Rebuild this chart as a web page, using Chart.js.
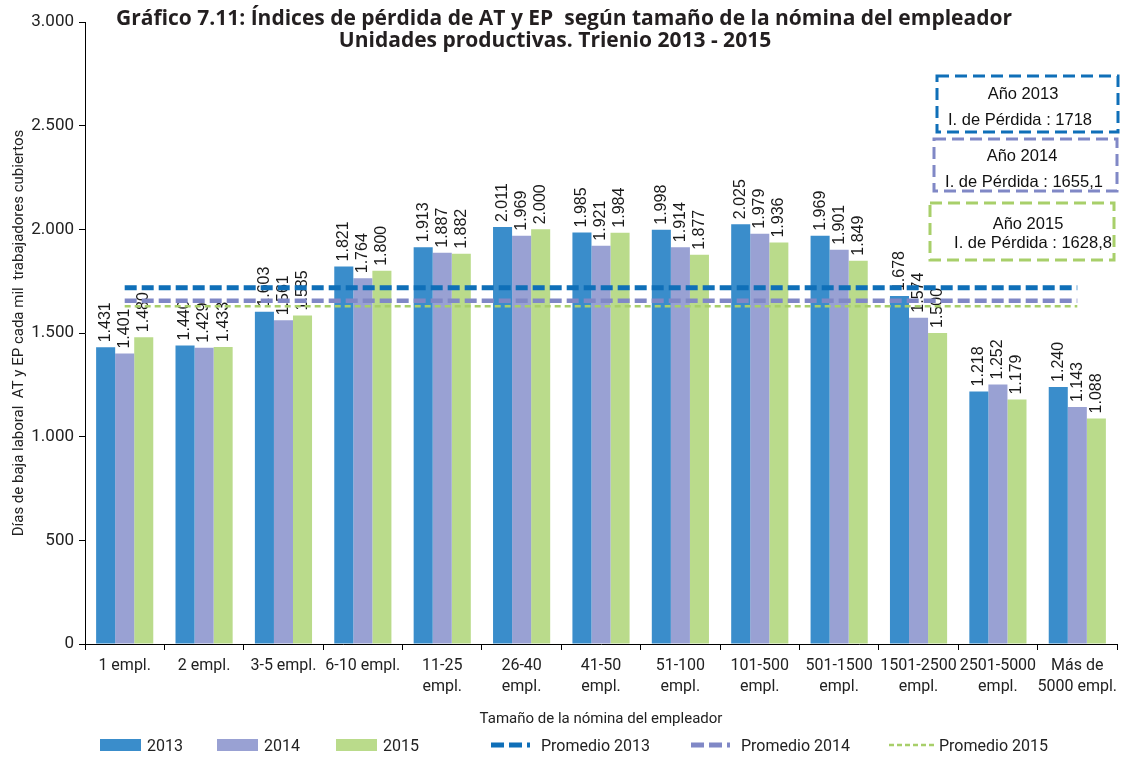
<!DOCTYPE html>
<html lang="es">
<head>
<meta charset="utf-8">
<script src="https://cdn.jsdelivr.net/npm/chart.js@4.4.0/dist/chart.umd.min.js"></script>
<style>
  body { margin:0; background:#fff; }
  #wrap { position:relative; width:1124px; height:758px; overflow:hidden; }
  #grafico { position:absolute; left:0; top:0; }
  .tit { position:absolute; white-space:pre; font:bold 21px "Open Sans", sans-serif; color:#231f20; transform:translate(-50%,-50%); }
  .caja { position:absolute; white-space:pre; font:16.5px "Liberation Sans", Arial, sans-serif; color:#111; transform:translate(-50%,-50%); }
  #cajas, .ley svg { position:absolute; left:0; top:0; }
  .ley { position:absolute; top:736px; height:18px; display:flex; align-items:center; font:16px "Liberation Sans Narrow", "Roboto", sans-serif; color:#222; }
  .ley i { display:inline-block; width:41px; height:12px; margin-right:6px; }
</style>
</head>
<body>
<div id="wrap">
  <canvas id="grafico" width="1124" height="758"></canvas>
  <div class="tit" style="left:564px;top:17px">Gráfico 7.11: Índices de pérdida de AT y EP  según tamaño de la nómina del empleador</div>
  <div class="tit" style="left:555px;top:39px">Unidades productivas. Trienio 2013 - 2015</div>
  <svg id="cajas" width="1124" height="758"></svg>
  <div id="notas"></div>
  <div id="leyenda"></div>
</div>
<script>
// Índices de pérdida (días de baja cada mil trabajadores) por tamaño de nómina
const categorias = [
  "1 empl.", "2 empl.", "3-5 empl.", "6-10 empl.",
  ["11-25", "empl."], ["26-40", "empl."], ["41-50", "empl."], ["51-100", "empl."],
  ["101-500", "empl."], ["501-1500", "empl."], ["1501-2500", "empl."], ["2501-5000", "empl."],
  ["Más de", "5000 empl."]
];
const anios = ["2013", "2014", "2015"];
const valores2013 = [1431, 1440, 1603, 1821, 1913, 2011, 1985, 1998, 2025, 1969, 1678, 1218, 1240];
const valores2014 = [1401, 1429, 1561, 1764, 1887, 1969, 1921, 1914, 1979, 1901, 1574, 1252, 1143];
const valores2015 = [1480, 1433, 1585, 1800, 1882, 2000, 1984, 1877, 1936, 1849, 1500, 1179, 1088];
const promedios = [1718, 1655.1, 1628.8];
const promediosTexto = ["1718", "1655,1", "1628,8"];
const ticksY = [0, 500, 1000, 1500, 2000, 2500, 3000];

const COL_BAR = ["#3a8dcb", "#99a1d3", "#badb8b"];
const COL_LIN = ["#0f6fb8", "#8088c6", "#a8cf6a"];
const DASH = [[12, 5], [12, 5], [6, 4]];
const ANCHO = [5, 4.5, 2.5];

const fmt = (v) => v >= 1000 ? Math.floor(v / 1000) + "." + String(v % 1000).padStart(3, "0") : String(v);
const NARROW = '"Liberation Sans Narrow", "Roboto", sans-serif';

// Etiquetas verticales encima de cada barra (las líneas de promedio quedan por encima)
const etiquetas = {
  id: "etiquetas",
  beforeDatasetsDraw(c) {
    const ctx = c.ctx;
    c.data.datasets.forEach((ds, i) => {
      if (ds.type === "line") return;
      c.getDatasetMeta(i).data.forEach((bar, j) => {
        ctx.save();
        ctx.translate(bar.x, bar.y - 5);
        ctx.rotate(-Math.PI / 2);
        ctx.font = '16px "Liberation Sans", Arial, sans-serif';
        ctx.fillStyle = "#1a1a1a";
        ctx.textAlign = "left";
        ctx.textBaseline = "middle";
        ctx.fillText(fmt(ds.data[j]), 0, 0);
        ctx.restore();
      });
    });
  },
};

const series = [valores2013, valores2014, valores2015];
const datasets = series.map((d, i) => ({
  type: "bar", label: anios[i], data: d, backgroundColor: COL_BAR[i],
  categoryPercentage: 0.72, barPercentage: 1, order: 2,
}));
promedios.forEach((p, i) => datasets.push({
  type: "line", label: "Promedio " + anios[i], data: categorias.map(() => p),
  borderColor: COL_LIN[i], borderWidth: ANCHO[i], borderDash: DASH[i],
  pointRadius: 0, fill: false, order: 1,
}));

new Chart(document.getElementById("grafico"), {
  type: "bar",
  data: { labels: categorias, datasets },
  plugins: [etiquetas],
  options: {
    responsive: false, animation: false,
    layout: { padding: { left: 0, top: 22, right: 7, bottom: 30 } },
    plugins: { legend: { display: false }, tooltip: { enabled: false } },
    scales: {
      x: {
        afterFit: (s) => { s.height = 84; },
        grid: { drawOnChartArea: false, tickLength: 6, color: "#000", offset: true },
        border: { color: "#000", width: 1 },
        ticks: { color: "#222", font: { family: NARROW, size: 16, lineHeight: 1.3 }, padding: 6, maxRotation: 0, autoSkip: false },
        title: { display: true, text: "Tamaño de la nómina del empleador", color: "#222",
                 font: { family: NARROW, size: 15 }, padding: { top: 0, bottom: 0 } },
      },
      y: {
        min: 0, max: 3000,
        afterFit: (s) => { s.width = 85; },
        afterBuildTicks: (s) => { s.ticks = ticksY.map((v) => ({ value: v })); },
        grid: { drawOnChartArea: false, tickLength: 6, color: "#000" },
        border: { color: "#000", width: 1 },
        ticks: { color: "#222", font: { family: NARROW, size: 17 }, padding: 5, callback: (v) => fmt(v) },
        title: { display: true, text: "Días de baja laboral  AT y EP cada mil  trabajadores cubiertos", color: "#222",
                 font: { family: NARROW, size: 15 }, padding: { top: 10, bottom: 0 } },
      },
    },
  },
});

// Recuadros con el índice de pérdida de cada año
const cajas = [
  { x: 937, y: 76, w: 181, h: 56, t1: [1023, 93], t2: [1020, 119] },
  { x: 934, y: 139, w: 183, h: 52, t1: [1022, 155], t2: [1024, 181] },
  { x: 930, y: 203, w: 184, h: 57, t1: [1028, 223], t2: [1033, 242] },
];
const svg = document.getElementById("cajas");
const notas = document.getElementById("notas");
cajas.forEach((b, i) => {
  svg.innerHTML += `<rect x="${b.x}" y="${b.y}" width="${b.w}" height="${b.h}" fill="none"
    stroke="${COL_LIN[i]}" stroke-width="3" stroke-dasharray="12 6"/>`;
  notas.innerHTML += `<div class="caja" style="left:${b.t1[0]}px;top:${b.t1[1]}px">Año ${anios[i]}</div>` +
    `<div class="caja" style="left:${b.t2[0]}px;top:${b.t2[1]}px">I. de Pérdida : ${promediosTexto[i]}</div>`;
});

// Leyenda inferior
const posLeyenda = [100, 217, 336, 490, 690, 888];
const ley = document.getElementById("leyenda");
anios.forEach((a, i) => {
  ley.innerHTML += `<div class="ley" style="left:${posLeyenda[i]}px"><i style="background:${COL_BAR[i]}"></i>${a}</div>`;
});
anios.forEach((a, i) => {
  const dash = i === 2 ? "5 3" : "13 5 13 5 3 50";
  ley.innerHTML += `<div class="ley" style="left:${posLeyenda[3 + i]}px">
    <svg width="48" height="18" style="position:static;margin-right:3px"><line x1="1" y1="9" x2="47" y2="9"
      stroke="${COL_LIN[i]}" stroke-width="${i === 2 ? 2.5 : 5}" stroke-dasharray="${dash}"/></svg>Promedio ${a}</div>`;
});
</script>
</body>
</html>
